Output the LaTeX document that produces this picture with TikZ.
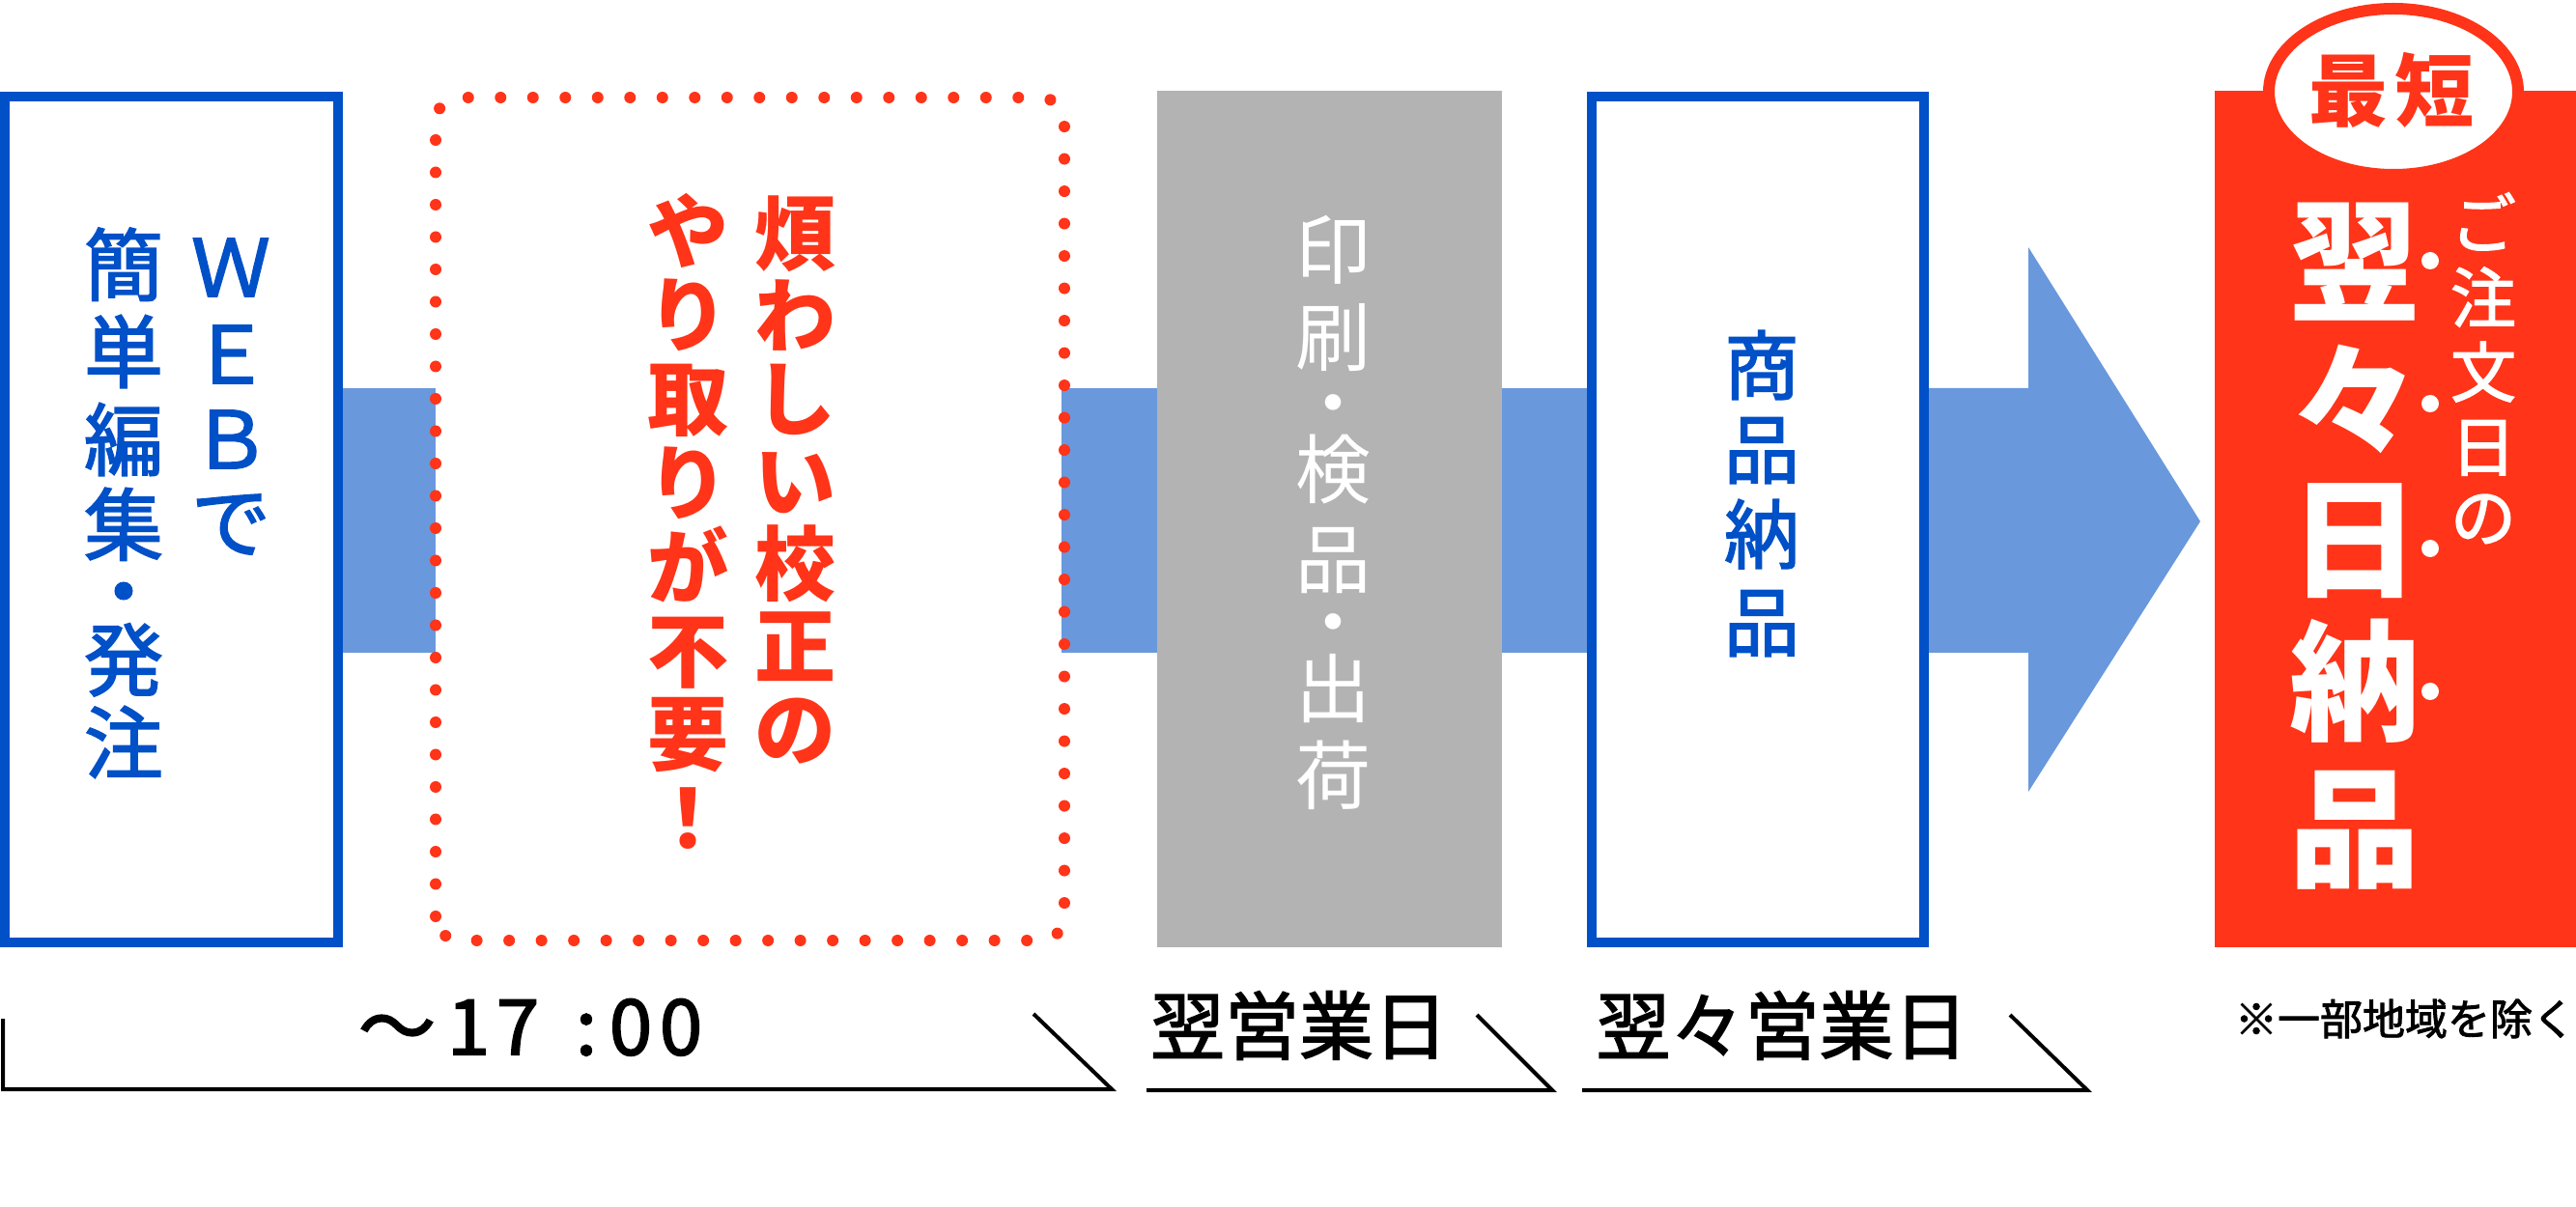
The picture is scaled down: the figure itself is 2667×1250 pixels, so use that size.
\documentclass[tikz,border=0pt]{standalone}
\usepackage{fontspec}
\setmainfont{Noto Sans CJK JP}
\newfontfamily\jpmed{Noto Sans CJK JP}[FakeBold=2]
\usetikzlibrary{shapes.geometric}
\definecolor{boxblue}{HTML}{0050C8}
\definecolor{bandblue}{HTML}{6998DD}
\definecolor{accent}{HTML}{FF3418}
\definecolor{panelgray}{HTML}{B3B3B3}
\begin{document}
\begin{tikzpicture}[x=0.3pt,y=-0.3pt,
  cjk/.style args={#1/#2}{inner sep=0pt,outer sep=0pt,anchor=base,yshift=-#1,text height=#2,text depth=0pt},
  panel/.style={rectangle,inner sep=0pt,outer sep=0pt},
  band/.style={fill=bandblue},
  bracketline/.style={draw=black,line width=1.2pt,line join=miter},
  fblue/.style={cjk=9.35pt/17pt,text=boxblue,font=\fontsize{24.6pt}{24.6pt}\jpmed},
  fred/.style={cjk=9.58pt/17pt,text=accent,font=\fontsize{25.2pt}{25.2pt}\selectfont\bfseries},
  fgray/.style={cjk=8.89pt/16pt,text=white,font=\fontsize{23.4pt}{23.4pt}\selectfont},
  fdeliv/.style={cjk=8.89pt/16pt,text=boxblue,font=\fontsize{23.4pt}{23.4pt}\jpmed},
  fbig/.style={cjk=15.39pt/28pt,text=white,font=\fontsize{40.5pt}{40.5pt}\selectfont\bfseries},
  fsmall/.style={cjk=7.75pt/14pt,text=white,font=\fontsize{20.4pt}{20.4pt}\jpmed},
  fbadge/.style={cjk=9.35pt/17pt,text=accent,font=\fontsize{24.6pt}{24.6pt}\selectfont\bfseries},
  flabel/.style={cjk=8.78pt/16pt,text=black,font=\fontsize{23.1pt}{23.1pt}\jpmed},
  ftime/.style={cjk=9.12pt/16pt,text=black,font=\fontsize{24pt}{24pt}\jpmed},
  fnote/.style={cjk=5.02pt/9pt,text=black,font=\fontsize{13.2pt}{13.2pt}\jpmed}]
\useasboundingbox (0,0) rectangle (2667,1250);

% band levels
\coordinate (bt) at (0,402);
\coordinate (bb) at (0,676);

% boxes (shapes only)
\node[panel,minimum width=103.5pt,minimum height=262.8pt] (web) at (177.5,538) {};
\node[panel,minimum width=195.3pt,minimum height=261.9pt] (proof) at (776.5,537.5) {};
\node[panel,minimum width=107.1pt,minimum height=266.1pt] (print) at (1376.5,537.5) {};
\node[panel,minimum width=103.2pt,minimum height=262.8pt] (deliv) at (1820,538) {};
\node[panel,minimum width=112.2pt,minimum height=266.1pt] (result) at (2480,537.5) {};

% connector bands
\fill[band] (web.east |- bt) rectangle (proof.west |- bb);
\fill[band] ([xshift=-1pt]proof.east |- bt) rectangle (print.west |- bb);
\fill[band] (print.east |- bt) rectangle (deliv.west |- bb);
\coordinate (headtop) at (2100,256);
\coordinate (headbot) at (2100,820);
\coordinate (tip) at (2278,540);
\fill[band] (deliv.east |- bt) -- (headtop |- bt) -- (headtop) -- (tip) -- (headbot) -- (headbot |- bb) -- (deliv.east |- bb) -- cycle;

% draw boxes
\draw[boxblue,line width=3pt,fill=white] (web.south west) rectangle (web.north east);
\draw[accent,line width=3.6pt,line cap=round,dash pattern=on 0pt off 10.05pt,rounded corners=7.5pt]
  (proof.south west) rectangle (proof.north east);
\fill[panelgray] (print.south west) rectangle (print.north east);
\draw[boxblue,line width=3pt,fill=white] (deliv.south west) rectangle (deliv.north east);
\fill[accent] (result.south west) rectangle (result.north east);
\node[ellipse,draw=accent,line width=3.6pt,fill=white,inner sep=0pt,minimum width=77.4pt,minimum height=51.6pt] (badge) at (2478,95) {};

% box 1 text
\foreach \c/\y [count=\i] in {Ｗ/276,Ｅ/366,Ｂ/454,で/540}
  \node[fblue] (wa-\i) at (239,\y) {\c};
\foreach \c/\y [count=\i] in {簡/274,単/364,編/455,集/543,・/612,発/683,注/769}
  \node[fblue] (wb-\i) at (128,\y) {\c};

% dotted box text
\foreach \c/\y [count=\i] in {煩/242,わ/327,し/413,い/498,校/584,正/669,の/755}
  \node[fred] (pa-\i) at (823,\y) {\c};
\foreach \c/\y [count=\i] in {や/240,り/326,取/413,り/500,が/587,不/674,要/760,！/847}
  \node[fred] (pb-\i) at (712,\y) {\c};

% gray box text
\foreach \c/\y [count=\i] in {印/259,刷/349,・/417,検/486,品/579,・/644,出/713,荷/803}
  \node[fgray] (pr-\i) at (1380,\y) {\c};

% delivery box text
\foreach \c/\y [count=\i] in {商/378,品/465,納/553,品/644}
  \node[fdeliv] (dl-\i) at (1824,\y) {\c};

% result text
\foreach \c/\y [count=\i] in {翌/270,々/414,日/557,納/705,品/857}
  \node[fbig] (rb-\i) at (2438,\y) {\c};
\foreach \c/\y [count=\i] in {ご/231,注/308,文/385,日/462,の/535}
  \node[fsmall] (rs-\i) at (2571,\y) {\c};
\foreach \y [count=\i] in {270,418,568,716}
  \fill[white] (2516,\y) circle[radius=2.7pt];
\node[fbadge] (bd-1) at (2431,93) {最};
\node[fbadge] (bd-2) at (2520,93) {短};

% bottom brackets
\coordinate (k1a) at (3,1055);
\coordinate (k1b) at (3,1128);
\coordinate (k1c) at (1151,1128);
\coordinate (k1d) at (1070,1050);
\draw[bracketline] (k1a) -- (k1b) -- (k1c) -- (k1d);
\coordinate (k2a) at (1187,1129);
\coordinate (k2b) at (1607,1129);
\coordinate (k2c) at (1529,1051);
\draw[bracketline] (k2a) -- (k2b) -- (k2c);
\coordinate (k3a) at (1638,1129);
\coordinate (k3b) at (2161,1129);
\coordinate (k3c) at (2081,1051);
\draw[bracketline] (k3a) -- (k3b) -- (k3c);

% bottom labels
\foreach \c/\x [count=\i] in {〜/411,1/485,7/536,:/607,0/653,0/705}
  \node[ftime] (tm-\i) at (\x,1062) {\c};
\node[flabel] (lab2) at (1345,1062) {翌営業日};
\node[flabel] (lab3) at (1845,1062) {翌々営業日};
\node[fnote] (note) at (2490,1055) {※一部地域を除く};
\end{tikzpicture}
\end{document}
